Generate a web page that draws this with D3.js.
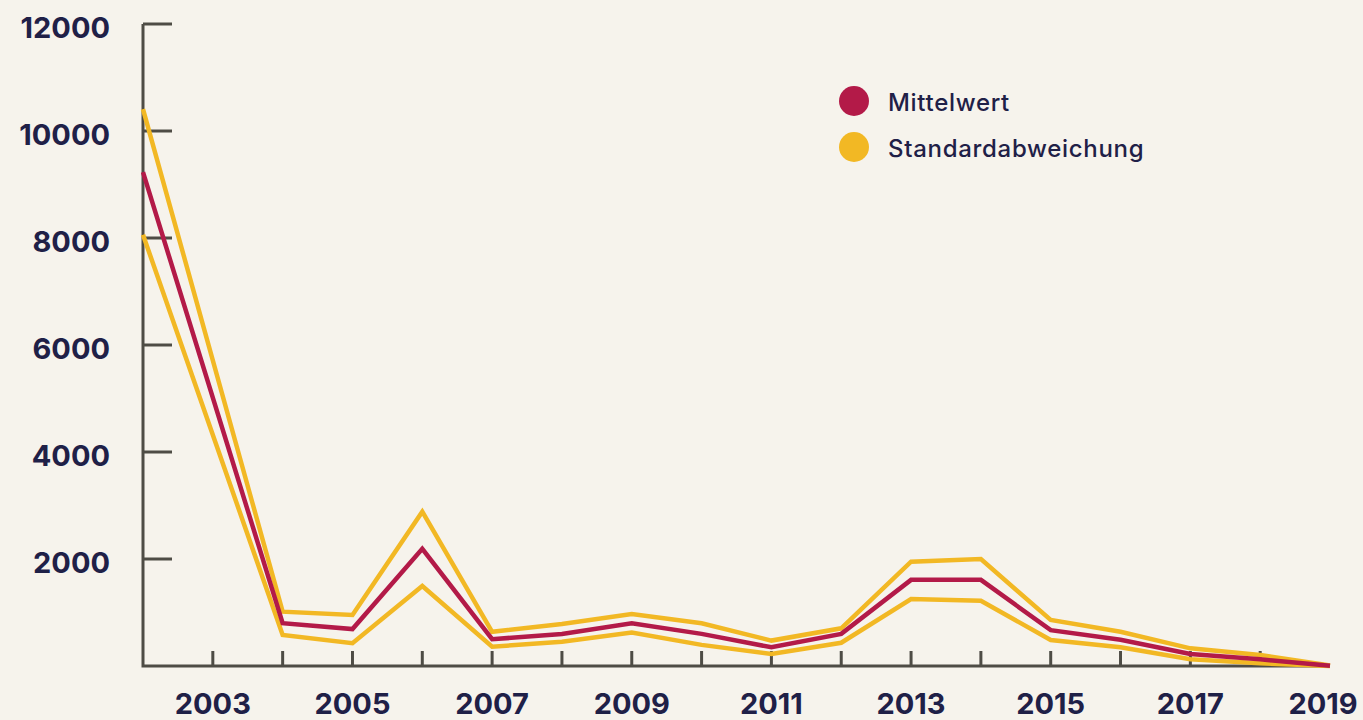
<!DOCTYPE html>
<html>
<head>
<meta charset="utf-8">
<script src="https://cdn.jsdelivr.net/npm/d3@7"></script>
<style>
  html, body { margin: 0; padding: 0; background: #f6f3ec; }
  svg { display: block; }
</style>
</head>
<body>
<svg id="chart" width="1363" height="720"></svg>
<script>
// Data (2003 has no drawn vertex, line runs straight 2002 -> 2004)
const years      = [2002, 2004, 2005, 2006, 2007, 2008, 2009, 2010, 2011, 2012, 2013, 2014, 2015, 2016, 2017, 2018, 2019];
const meanValues = [9230,  800,  690, 2190,  500,  600,  800,  600,  350,  600, 1610, 1610,  670,  490,  225,  125,    5];
const upperValues= [10410, 1015, 955, 2885,  640,  785,  970,  800,  475,  705, 1950, 2000,  860,  640,  330,  205,   10];
const lowerValues= [8060,   580, 425, 1495,  360,  455,  625,  395,  225,  435, 1250, 1220,  485,  350,  125,   50,    0];
const yTickValues = [2000, 4000, 6000, 8000, 10000, 12000];
const xLabelYears = [2003, 2005, 2007, 2009, 2011, 2013, 2015, 2017, 2019];
const xTickYears  = [2003, 2004, 2005, 2006, 2007, 2008, 2009, 2010, 2011, 2012, 2013, 2014, 2015, 2016, 2017, 2018];
const legendItems = ["Mittelwert", "Standardabweichung"];

const colors = { mean: "#b31a48", sd: "#f2b824", axis: "#4e4c45", text: "#1f2047" };

const svg = d3.select("#chart");
const x = d3.scaleLinear().domain([2002, 2019]).range([143, 1330]);
const y = d3.scaleLinear().domain([0, 12000]).range([666, 24]);

// Axes
const axisG = svg.append("g");
axisG.append("path")
  .attr("d", `M${x(2002)},${y(12000)} V${y(0)} H${x(2019)}`)
  .attr("fill", "none").attr("stroke", colors.axis).attr("stroke-width", 3);

axisG.selectAll("line.ytick").data(yTickValues).join("line")
  .attr("x1", x(2002)).attr("x2", x(2002) + 29)
  .attr("y1", d => y(d)).attr("y2", d => y(d))
  .attr("stroke", colors.axis).attr("stroke-width", 3);

axisG.selectAll("line.xtick").data(xTickYears).join("line")
  .attr("x1", d => x(d)).attr("x2", d => x(d))
  .attr("y1", y(0)).attr("y2", y(0) - 15)
  .attr("stroke", colors.axis).attr("stroke-width", 3);

axisG.selectAll("text.ylab").data(yTickValues).join("text")
  .attr("x", 110).attr("y", d => y(d) + 3)
  .attr("text-anchor", "end").attr("dominant-baseline", "central")
  .attr("font-family", "Inter, 'Noto Sans', sans-serif").attr("font-weight", 700)
  .attr("font-size", 29).attr("fill", colors.text)
  .text(d => d);

axisG.selectAll("text.xlab").data(xLabelYears).join("text")
  .attr("x", d => x(d) + (d === 2019 ? -7 : 0)).attr("y", 714)
  .attr("text-anchor", "middle")
  .attr("font-family", "Inter, 'Noto Sans', sans-serif").attr("font-weight", 700)
  .attr("font-size", 29).attr("fill", colors.text)
  .text(d => d);

// Lines
const mk = vals => d3.line().x((d, i) => x(years[i])).y(d => y(d))(vals);
[upperValues, lowerValues].forEach(v => {
  svg.append("path").attr("d", mk(v)).attr("fill", "none")
    .attr("stroke", colors.sd).attr("stroke-width", 4.5).attr("stroke-linejoin", "miter");
});
svg.append("path").attr("d", mk(meanValues)).attr("fill", "none")
  .attr("stroke", colors.mean).attr("stroke-width", 4.5).attr("stroke-linejoin", "miter");

// Legend
const lg = svg.append("g");
const lgY = d3.scalePoint().domain(legendItems).range([101, 147]);
lg.selectAll("circle").data(legendItems).join("circle")
  .attr("cx", 854).attr("cy", d => lgY(d)).attr("r", 15)
  .attr("fill", (d, i) => i === 0 ? colors.mean : colors.sd);
lg.selectAll("text").data(legendItems).join("text")
  .attr("x", 888).attr("y", d => lgY(d) + 1)
  .attr("dominant-baseline", "central")
  .attr("font-family", "Inter, 'Noto Sans', sans-serif").attr("font-weight", 500)
  .attr("font-size", 24).attr("letter-spacing", 0.7).attr("fill", colors.text)
  .text(d => d);
</script>
</body>
</html>
